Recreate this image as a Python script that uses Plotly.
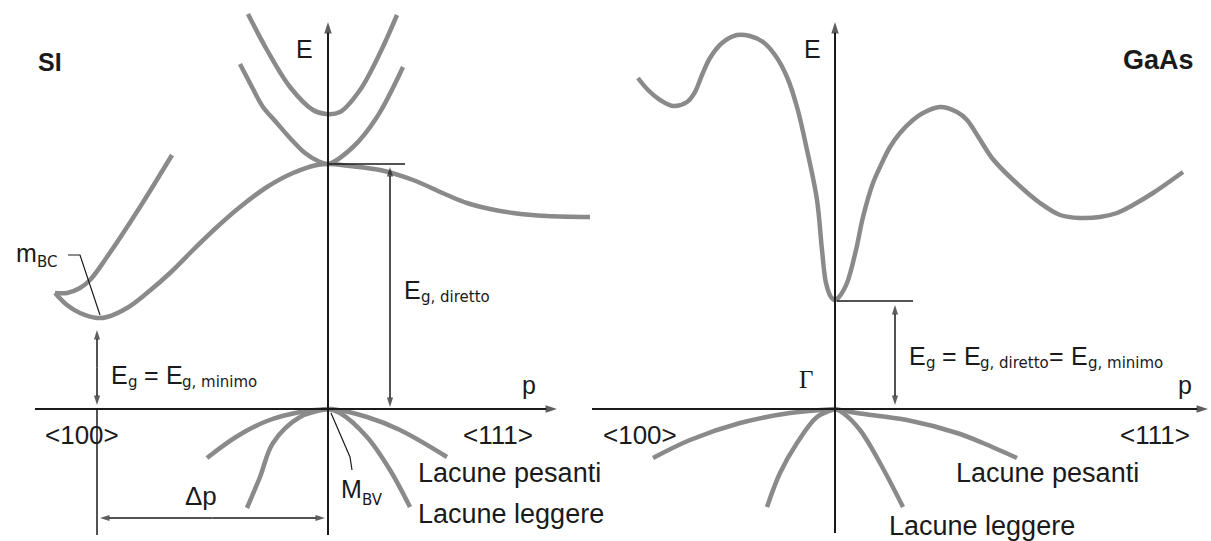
import plotly.graph_objects as go

# Energy-momentum sketches of band structure: indirect gap (Si) vs direct gap (GaAs).
# Coordinates are momentum p (horizontal) and energy E (vertical) in drawing units
# (one unit per pixel), with the valence-band maximum at the origin of each panel.

# ---------------- Si ----------------
si_cb_upper_p = [-80, -61, -38, -15, -2, 12, 32, 52, 69]
si_cb_upper_E = [395, 359, 322, 299, 295, 297, 319, 356, 394]

si_cb_second_p = [-88, -76, -65, -52, -38, -23, -10, 0, 25, 49, 75]
si_cb_second_E = [345, 322, 302, 287, 271, 256, 248, 245, 262, 292, 342]

si_cb_main_p = [-273, -261, -248, -231, -221, -201, -181, -158, -135, -111, -88,
                -61, -35, -11, 0, 22, 52, 85, 119, 139, 162, 185, 219, 262]
si_cb_main_E = [116, 104, 96, 91, 92, 101, 116, 136, 159, 182, 202,
                222, 236, 244, 245, 243, 239, 229, 214, 206, 200, 196, 193, 192]

si_cb_branch_p = [-273, -261, -248, -238, -221, -188, -156]
si_cb_branch_E = [116, 116, 121, 129, 152, 202, 254]

si_hh_left_p = [0, -28, -61, -92, -121]
si_hh_left_E = [0, -3, -12, -28, -49]
si_lh_left_p = [0, -28, -55, -68, -81]
si_lh_left_E = [0, -8, -34, -68, -99]
si_hh_right_p = [0, 4, 39, 72, 119]
si_hh_right_E = [0, 0, -8, -21, -48]
si_lh_right_p = [0, 12, 39, 62, 82]
si_lh_right_E = [0, -4, -28, -61, -98]

# ---------------- GaAs ----------------
gaas_cb_p = [-197, -187, -175, -162, -148, -140, -133, -125, -113, -98, -85, -72, -60,
             -48, -38, -28, -18, -13, -9, -4, 0, 4, 12, 21, 28, 38, 45, 55, 65, 78,
             88, 105, 122, 132, 144, 157, 175, 205, 225, 245, 265, 282, 298, 318, 348]
gaas_cb_E = [331, 319, 309, 303, 307, 317, 334, 351, 366, 374, 373, 367, 354,
             332, 302, 259, 209, 159, 126, 112, 109, 112, 126, 159, 192, 226, 242,
             262, 276, 289, 296, 302, 297, 289, 271, 251, 232, 206, 194, 191, 192,
             196, 204, 216, 237]

gaas_hh_left_p = [0, -45, -95, -145, -182]
gaas_hh_left_E = [0, -4, -14, -31, -49]
gaas_lh_left_p = [0, -18, -38, -55, -68]
gaas_lh_left_E = [0, -8, -34, -64, -98]
gaas_lh_right_p = [0, 8, 25, 45, 68]
gaas_lh_right_E = [0, -4, -21, -54, -98]
gaas_hh_right_p = [0, 22, 72, 122, 148, 182]
gaas_hh_right_E = [0, -4, -11, -24, -34, -49]

direction_labels = ["<100>", "<111>"]

BAND = "#8a8a8a"
INK = "#1a1a1a"
FONT = "Liberation Sans, Arial, sans-serif"
SUB_FONT = "DejaVu Sans, Verdana, sans-serif"
MAIN_SIZE, SUB_SIZE = 25, 15

# advance widths (em) used to set subscripts after their base letters
MAIN_W = {"E": .667, "g": .556, " ": .278, "=": .584, "m": .833, "M": .833}
SUB_W = {"g": .635, ",": .318, " ": .318, "d": .635, "i": .278, "r": .411,
         "e": .615, "t": .392, "o": .612, "m": .974, "n": .634, "B": .686,
         "C": .698, "V": .684}

fig = go.Figure()


def band(p, E, xaxis):
    fig.add_trace(go.Scatter(
        x=p, y=E, mode="lines", xaxis=xaxis, yaxis="y",
        line=dict(color=BAND, width=4.5, shape="spline", smoothing=1.0),
        hoverinfo="skip"))


for p, E in [(si_cb_upper_p, si_cb_upper_E), (si_cb_second_p, si_cb_second_E),
             (si_cb_main_p, si_cb_main_E), (si_cb_branch_p, si_cb_branch_E),
             (si_hh_left_p, si_hh_left_E), (si_lh_left_p, si_lh_left_E),
             (si_hh_right_p, si_hh_right_E), (si_lh_right_p, si_lh_right_E)]:
    band(p, E, "x")

for p, E in [(gaas_cb_p, gaas_cb_E),
             (gaas_hh_left_p, gaas_hh_left_E), (gaas_lh_left_p, gaas_lh_left_E),
             (gaas_lh_right_p, gaas_lh_right_E), (gaas_hh_right_p, gaas_hh_right_E)]:
    band(p, E, "x2")

annotations = []


def line(xaxis, pts, width=1.5):
    fig.add_trace(go.Scatter(
        x=[a for a, _ in pts], y=[b for _, b in pts], mode="lines",
        xaxis=xaxis, yaxis="y", line=dict(color=INK, width=width),
        hoverinfo="skip"))


def arrow(xaxis, x0, y0, x1, y1, both=False, width=1.5, head=10):
    # A straight guide with a head at (x1, y1); a double-headed guide is drawn
    # as two halves running outward from its midpoint.
    if both:
        mx, my = (x0 + x1) / 2, (y0 + y1) / 2
        arrow(xaxis, mx, my, x0, y0, width=width, head=head)
        arrow(xaxis, mx, my, x1, y1, width=width, head=head)
        return
    fig.add_trace(go.Scatter(
        x=[x0, x1], y=[y0, y1], mode="lines+markers", xaxis=xaxis, yaxis="y",
        line=dict(color=INK, width=width),
        marker=dict(symbol="arrow", size=[0, head], angleref="previous",
                    color=INK, line=dict(width=0)),
        hoverinfo="skip"))


def label(xref, x, y, text, size=MAIN_SIZE, xanchor="center", family=FONT, bold=False):
    annotations.append(dict(
        xref=xref, yref="y", x=x, y=y, text=f"<b>{text}</b>" if bold else text,
        showarrow=False, xanchor=xanchor, yanchor="middle", borderpad=0,
        font=dict(family=family, size=size, color=INK)))


def rich_label(xref, x, y, pieces, sub_drop=7):
    # pieces: (text, is_subscript); subscripts are set smaller and lower
    for text, is_sub in pieces:
        if is_sub:
            label(xref, x, y - sub_drop, text, size=SUB_SIZE, xanchor="left", family=SUB_FONT)
            x += sum(SUB_W[c] for c in text) * SUB_SIZE
        else:
            shown = text.strip()
            lead = len(text) - len(text.lstrip())
            x += lead * MAIN_W[" "] * MAIN_SIZE
            label(xref, x, y, shown, xanchor="left")
            x += sum(MAIN_W[c] for c in text[lead:]) * MAIN_SIZE


def esc(t):
    return t.replace("<", "&lt;").replace(">", "&gt;")


# Si axes and guides
arrow("x", 0, -126, 0, 387, width=2, head=12)
arrow("x", -293, 0, 229, 0, width=2, head=12)
line("x", [(-231, 0), (-231, -126)])
arrow("x", -231, 4, -231, 79, both=True)
arrow("x", -228, -109, -3, -109, both=True)
arrow("x", 62, 2, 62, 242, both=True)
line("x", [(0, 245), (77, 245)])
line("x", [(-260, 154), (-248, 154), (-228, 94)], width=1.2)
line("x", [(3, -4), (22, -48), (24, -61)], width=1.2)

label("x", -278, 347, "SI", size=25, bold=True)
label("x", -24, 360, "E")
rich_label("x", -313, 156, [("m", False), ("BC", True)], sub_drop=9)
rich_label("x", 75, 119, [("E", False), ("g, diretto", True)])
rich_label("x", -218, 34, [("E", False), ("g", True), (" =", False), (" E", False),
                            ("g, minimo", True)])
label("x", 201, 24, "p")
label("x", -246, -26, esc(direction_labels[0]), size=26)
label("x", 170, -26, esc(direction_labels[1]), size=26)
label("x", -127, -87, "Δp", size=26)
rich_label("x", 12, -80, [("M", False), ("BV", True)], sub_drop=11)
label("x", 89, -64, "Lacune pesanti", size=27, xanchor="left")
label("x", 89, -105, "Lacune leggere", size=27, xanchor="left")

# GaAs axes and guides
arrow("x2", 0, -124, 0, 387, width=2, head=12)
arrow("x2", -243, 0, 373, 0, width=2, head=12)
line("x2", [(2, 108), (78, 108)])
arrow("x2", 60, 4, 60, 104, both=True)

label("x2", -23, 360, "E")
label("x2", 323, 349, "GaAs", size=27, bold=True)
label("x2", -29, 30, "Γ", size=25, family="Liberation Serif, Times New Roman, serif")
rich_label("x2", 73, 53, [("E", False), ("g", True), (" =", False), (" E", False),
                           ("g, diretto", True), ("=", False), (" E", False),
                           ("g, minimo", True)])
label("x2", 350, 24, "p")
label("x2", -195, -26, esc(direction_labels[0]), size=26)
label("x2", 320, -26, esc(direction_labels[1]), size=26)
label("x2", 120, -64, "Lacune pesanti", size=27, xanchor="left")
label("x2", 53, -117, "Lacune leggere", size=27, xanchor="left")

W, H = 1211, 541
split = 590
hidden = dict(visible=False, showgrid=False, zeroline=False, fixedrange=True)
fig.update_layout(
    width=W, height=H, margin=dict(l=0, r=0, t=0, b=0),
    paper_bgcolor="white", plot_bgcolor="white", showlegend=False,
    xaxis=dict(domain=[0, split / W], range=[-328, split - 328], **hidden),
    xaxis2=dict(domain=[split / W, 1], range=[split - 835, W - 835], **hidden),
    yaxis=dict(domain=[0, 1], range=[409 - H, 409], **hidden),
    annotations=annotations,
)

fig.write_html("out.html", config={"displayModeBar": False})
